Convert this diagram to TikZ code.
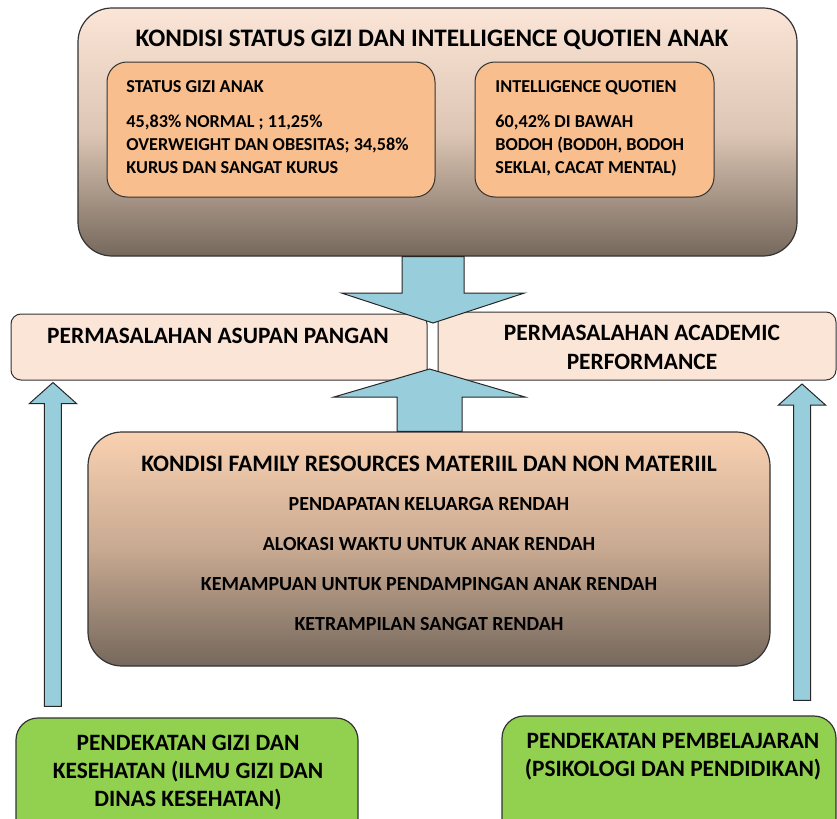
\documentclass[tikz,border=0pt]{standalone}
\usepackage{fontspec}
\setmainfont{Carlito}
\usetikzlibrary{positioning,calc}

\definecolor{peachlight}{HTML}{FBE5D6}
\definecolor{peachmid}{HTML}{DDC6B4}
\definecolor{greybrown}{HTML}{75685C}
\definecolor{peachtop}{HTML}{F9D1B1}
\definecolor{peachdark}{HTML}{C8A991}
\definecolor{orangebox}{HTML}{F8BE8D}
\definecolor{arrowblue}{HTML}{98CEDC}
\definecolor{greenbox}{HTML}{92D050}

\begin{document}
\begin{tikzpicture}[x=0.5pt,y=-0.5pt,node distance=20pt,
        main node/.style={rectangle,rounded corners=17pt,draw=black!80,line width=0.6pt},
        inner node/.style={rectangle,rounded corners=10pt,draw=black!80,line width=0.5pt,fill=orangebox},
        side node/.style={rectangle,rounded corners=5pt,draw=black!80,line width=0.5pt,fill=peachlight},
        green node/.style={rectangle,rounded corners=11pt,draw=black!80,line width=0.6pt,fill=greenbox},
        big text/.style={inner sep=0pt,font=\bfseries\fontsize{11.7}{14}\selectfont,align=center},
        small text/.style={inner sep=0pt,font=\bfseries\fontsize{9.1}{11.5}\selectfont,align=left},
        list text/.style={inner sep=0pt,font=\bfseries\fontsize{10}{12}\selectfont},
        block arrow/.style={fill=arrowblue,draw=black!85,line width=0.5pt,line join=miter}]

    \useasboundingbox (0,0) rectangle (837,819);

    % top box
    \node[main node,minimum width=359.5pt,minimum height=124pt,
        top color=peachlight,bottom color=greybrown,middle color=peachmid] (1) at (437.5,132) {};
    \node[big text,font=\bfseries\fontsize{12.6}{14}\selectfont] (2) at (432,40) {KONDISI STATUS GIZI DAN INTELLIGENCE QUOTIEN ANAK};
    \node[inner node,minimum width=164pt,minimum height=67.5pt] (3) at (271,129.5) {};
    \node[inner node,minimum width=119.5pt,minimum height=67.5pt] (4) at (594.5,129.5) {};
    \node[small text,anchor=north west] (5) at (126,80) {STATUS GIZI ANAK\\[6pt]45,83\% NORMAL ; 11,25\%\\OVERWEIGHT DAN OBESITAS; 34,58\%\\KURUS DAN SANGAT KURUS};
    \node[small text,anchor=north west] (6) at (495,80) {INTELLIGENCE QUOTIEN\\[6pt]60,42\% DI BAWAH\\BODOH (BOD0H, BODOH\\SEKLAI, CACAT MENTAL)};

    % middle boxes
    \node[side node,minimum width=208pt,minimum height=33pt] (7) at (219,347) {};
    \node[side node,minimum width=199pt,minimum height=34pt] (8) at (637,346) {};
    \node[big text] (9) at (218,336) {PERMASALAHAN ASUPAN PANGAN};
    \node[big text,font=\bfseries\fontsize{11.7}{14.5}\selectfont] (10) at (642,347.5) {PERMASALAHAN ACADEMIC\\PERFORMANCE};

    % family resources box
    \node[main node,minimum width=341pt,minimum height=117pt,
        top color=peachtop,bottom color=greybrown,middle color=peachdark] (11) at (429,549) {};
    \node[big text,font=\bfseries\fontsize{11.8}{14}\selectfont] (12) at (429,464) {KONDISI FAMILY RESOURCES MATERIIL DAN NON MATERIIL};
    \node[list text] (13) [below of=12] {PENDAPATAN KELUARGA RENDAH};
    \node[list text] (14) [below of=13] {ALOKASI WAKTU UNTUK ANAK RENDAH};
    \node[list text] (15) [below of=14] {KEMAMPUAN UNTUK PENDAMPINGAN ANAK RENDAH};
    \node[list text] (16) [below of=15] {KETRAMPILAN SANGAT RENDAH};

    % approaches
    \node[green node,minimum width=171pt,minimum height=61pt] (17) at (187,779) {};
    \node[green node,minimum width=167pt,minimum height=62pt] (18) at (669,778) {};
    \node[big text] (19) at (188,773) {PENDEKATAN GIZI DAN\\KESEHATAN (ILMU GIZI DAN\\DINAS KESEHATAN)};
    \node[big text] (20) at (673,757) {PENDEKATAN PEMBELAJARAN\\(PSIKOLOGI DAN PENDIDIKAN)};

    % arrow ends
    \coordinate (a) at (433,323);
    \coordinate (b) at (429.5,369);
    \coordinate (c) at ($(7.south west)+(42.5,2)$);
    \coordinate (d) at ($(17.north west)+(37.5,-11)$);
    \coordinate (e) at (802,384);
    \coordinate (f) at ($(18.north)+(133,-15)$);

    \draw[block arrow] ($(1.south -| a)+(-31,0)$) |- ($(a)+(-91.5,-30)$) -- (a)
        -- ($(a)+(91.5,-30)$) -| ($(1.south -| a)+(31,0)$) -- cycle;
    \draw[block arrow] ($(11.north -| b)+(-32.5,0)$) |- ($(b)+(-95.5,28)$) -- (b)
        -- ($(b)+(95.5,28)$) -| ($(11.north -| b)+(32.5,0)$) -- cycle;
    \draw[block arrow] ($(d)+(-8.5,0)$) |- ($(c)+(-23.5,21)$) -- (c)
        -- ($(c)+(23.5,21)$) -| ($(d)+(8.5,0)$) -- cycle;
    \draw[block arrow] ($(f)+(-8.5,0)$) |- ($(e)+(-23.5,21)$) -- (e)
        -- ($(e)+(23.5,21)$) -| ($(f)+(8.5,0)$) -- cycle;
\end{tikzpicture}
\end{document}
